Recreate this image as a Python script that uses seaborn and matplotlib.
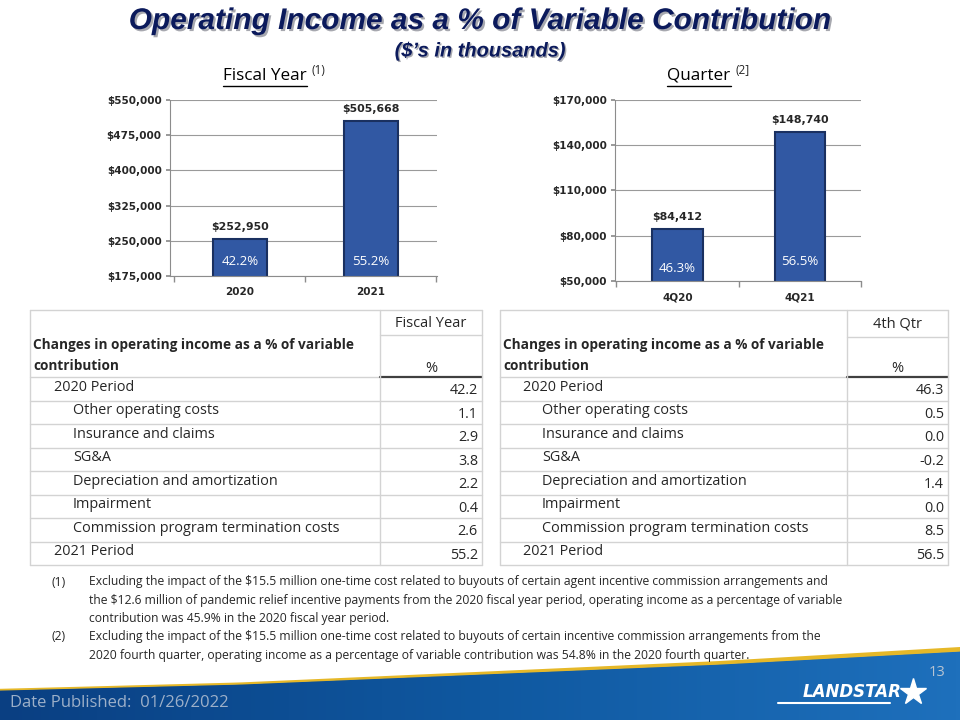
import numpy as np
import pandas as pd
import seaborn as sns
import matplotlib.pyplot as plt
from matplotlib import font_manager as fm
from matplotlib import patheffects as pe
from matplotlib.patches import Polygon
from matplotlib.ticker import FuncFormatter

# Dane wykresów słupkowych
fy_labels = ["2020", "2021"]
fy_values = [252950, 505668]
fy_pct = ["42.2%", "55.2%"]

q_labels = ["4Q20", "4Q21"]
q_values = [84412, 148740]
q_pct = ["46.3%", "56.5%"]

# Dane tabel
row_names = ["2020 Period", "Other operating costs", "Insurance and claims", "SG&A",
             "Depreciation and amortization", "Impairment",
             "Commission program termination costs", "2021 Period"]
row_level = [0, 1, 1, 1, 1, 1, 1, 0]
fy_changes = [42.2, 1.1, 2.9, 3.8, 2.2, 0.4, 2.6, 55.2]
q_changes = [46.3, 0.5, 0.0, -0.2, 1.4, 0.0, 8.5, 56.5]

footnotes = [
    ("(1)", ["Excluding the impact of the $15.5 million one-time cost related to buyouts of certain agent incentive commission arrangements and",
             "the $12.6 million of pandemic relief incentive payments from the 2020 fiscal year period, operating income as a percentage of variable",
             "contribution was 45.9% in the 2020 fiscal year period."]),
    ("(2)", ["Excluding the impact of the $15.5 million one-time cost related to buyouts of certain incentive commission arrangements from the",
             "2020 fourth quarter, operating income as a percentage of variable contribution was 54.8% in the 2020 fourth quarter."]),
]

sns.set_theme(style="white")
installed = {f.name for f in fm.fontManager.ttflist}
narrow = "Liberation Sans Narrow" if "Liberation Sans Narrow" in installed else "Liberation Sans"
plt.rcParams["font.family"] = ["Open Sans", "DejaVu Sans"]

W, H = 960, 720
fig = plt.figure(figsize=(9.6, 7.2), dpi=100)

# Tło w układzie pikseli
bg = fig.add_axes([0, 0, 1, 1], zorder=0)
bg.set_xlim(0, W)
bg.set_ylim(H, 0)
bg.axis("off")

NAVY = "#0B1A5C"
BAR = "#3158A3"
BAR_EDGE = "#1A3060"

# Tytuł
title_size = 25 if narrow == "Liberation Sans Narrow" else 21.5
bg.text(480, 21, "Operating Income as a % of Variable Contribution", ha="center", va="center",
        fontsize=title_size, fontweight="bold", style="italic", family=narrow, color=NAVY,
        path_effects=[pe.withSimplePatchShadow(offset=(1.5, -1.5), alpha=0.35)])
bg.text(480, 51, "($’s in thousands)", ha="center", va="center",
        fontsize=title_size * 0.67, fontweight="bold", style="italic", family=narrow, color=NAVY,
        path_effects=[pe.withSimplePatchShadow(offset=(1, -1), alpha=0.35)])

# Podtytuły wykresów z podkreśleniem
for cx, txt, sup in [(265, "Fiscal Year", "(1)"), (699, "Quarter", "(2]")]:
    t = bg.text(cx, 76, txt, ha="center", va="center", fontsize=12.3, color="#000000")
    fig.canvas.draw()
    bb = t.get_window_extent().transformed(bg.transData.inverted())
    x0, x1 = sorted([bb.x0, bb.x1])
    bg.plot([x0, x1], [85.5, 85.5], color="black", lw=1)
    bg.text(x1 + 5, 70, sup, ha="left", va="center", fontsize=8.5)


def px_axes(x0, y0, x1, y1):
    return fig.add_axes([x0 / W, 1 - y1 / H, (x1 - x0) / W, (y1 - y0) / H], zorder=2)


def bar_chart(ax, labels, values, pct, ylim, step, xlim, pct_y):
    df = pd.DataFrame({"cat": labels, "val": values})
    sns.barplot(data=df, x="cat", y="val", ax=ax, color=BAR, width=0.41,
                edgecolor=BAR_EDGE, linewidth=1.5, saturation=1)
    ax.set_ylim(*ylim)
    ax.set_xlim(*xlim)
    ax.set_yticks(np.arange(ylim[0], ylim[1] + 1, step))
    ax.yaxis.set_major_formatter(FuncFormatter(lambda v, p: f"${v:,.0f}"))
    ax.grid(axis="y", color="#9A9A9A", lw=0.8)
    ax.set_axisbelow(True)
    for s in ["top", "right"]:
        ax.spines[s].set_visible(False)
    for s in ["left", "bottom"]:
        ax.spines[s].set_color("#8C8C8C")
        ax.spines[s].set_linewidth(0.8)
    ax.set_xlabel("")
    ax.set_ylabel("")
    ax.tick_params(axis="y", left=True, length=3, color="#8C8C8C", labelsize=7.5, pad=3)
    ax.tick_params(axis="x", bottom=False, labelsize=7.5, pad=2)
    ax.set_xticks([-0.5, 0.5, 1.5], minor=True)
    ax.tick_params(axis="x", which="minor", bottom=True, length=4, color="#8C8C8C")
    for lab in ax.get_xticklabels() + ax.get_yticklabels():
        lab.set_fontweight("bold")
        lab.set_family("DejaVu Sans")
    for i, (v, p) in enumerate(zip(values, pct)):
        ax.annotate(f"${v:,.0f}", (i, v), xytext=(0, 5), textcoords="offset points",
                    ha="center", va="bottom", fontsize=7.9, fontweight="bold", family="DejaVu Sans")
        ax.text(i, ylim[0] + pct_y[i] * (ylim[1] - ylim[0]), p, ha="center", va="center",
                fontsize=9.5, color="white")


ax1 = px_axes(170, 100, 437, 276)
bar_chart(ax1, fy_labels, fy_values, fy_pct, (175000, 550000), 75000, (-0.534, 1.504), [0.085, 0.085])

ax2 = px_axes(615, 100, 861, 281)
bar_chart(ax2, q_labels, q_values, q_pct, (50000, 170000), 30000, (-0.51, 1.37), [0.07, 0.105])


# Tabele
GRID = "#D3D3D3"


def draw_table(x0, xv, x1, top, mid, hdr_bot, col_title, values, lx):
    row_h = (565 - hdr_bot) / len(values)
    bot = hdr_bot + row_h * len(values)
    # ramka i linie
    bg.plot([x0, x1], [top, top], color=GRID, lw=1)
    bg.plot([xv, x1], [mid, mid], color=GRID, lw=1)
    bg.plot([x0, xv], [hdr_bot, hdr_bot], color=GRID, lw=1)
    bg.plot([xv, x1], [hdr_bot, hdr_bot], color="#404040", lw=1.6)
    for k in range(1, len(values) + 1):
        y = hdr_bot + k * row_h
        bg.plot([x0, x1], [y, y], color=GRID, lw=1)
    for x in (x0, xv, x1):
        bg.plot([x, x], [top, bot], color=GRID, lw=1)
    bg.text((xv + x1) / 2, (top + mid) / 2 + 1, col_title, ha="center", va="center", fontsize=10.5)
    bg.text(x0 + 3, hdr_bot - 32, "Changes in operating income as a % of variable", ha="left",
            va="center", fontsize=9.8, fontweight="bold")
    bg.text(x0 + 3, hdr_bot - 11, "contribution", ha="left", va="center", fontsize=9.8, fontweight="bold")
    bg.text((xv + x1) / 2, hdr_bot - 9, "%", ha="center", va="center", fontsize=10.5)
    for k, (name, lvl, v) in enumerate(zip(row_names, row_level, values)):
        yc = hdr_bot + k * row_h + row_h / 2
        bg.text(lx[lvl], yc - 1.5, name, ha="left", va="center", fontsize=10.4)
        bg.text(x1 - 4, yc + 2, f"{v:.1f}", ha="right", va="center", fontsize=10.4)


draw_table(30, 380, 482, 310, 335, 377, "Fiscal Year", fy_changes, (54, 73))
draw_table(500, 847, 948, 310, 337, 377, "4th Qtr", q_changes, (523, 542))

# Przypisy
line_y = 582
for num, lines in footnotes:
    bg.text(52, line_y, num, ha="left", va="center", fontsize=8.7)
    for ln in lines:
        bg.text(89, line_y, ln, ha="left", va="center", fontsize=8.7)
        line_y += 18.3

# Stopka
xs = np.linspace(0, W, 120)
top_edge = np.interp(xs, [0, 240, 480, 720, 960], [690, 684, 674, 664, 651])
grad = np.linspace(0, 1, 256).reshape(1, -1)
band = Polygon(np.column_stack([np.r_[xs, W, 0], np.r_[top_edge, H, H]]), closed=True,
               facecolor="none", edgecolor="none")
bg.add_patch(band)
im = bg.imshow(grad, cmap=sns.blend_palette(["#0A3F82", "#0F58A0", "#1E70BC"], as_cmap=True),
               extent=[0, W, H, 640], aspect="auto", zorder=1)
im.set_clip_path(band)
# złoty pasek, grubszy z prawej strony
thick = 1.2 + 2.8 * (xs / W) ** 1.5
bg.fill_between(xs, top_edge + 0.6, top_edge - thick, color="#E6B828", lw=0, zorder=2)
bg.set_xlim(0, W)
bg.set_ylim(H, 0)

bg.text(10, 703, "Date Published:  01/26/2022", ha="left", va="center", fontsize=12,
        color="#9DB0C9", zorder=3)
bg.text(937, 673, "13", ha="center", va="center", fontsize=10.5, color="#B8C4D2", zorder=3)
bg.text(852, 692, "LANDSTAR", ha="center", va="center", fontsize=12, fontweight="heavy",
        style="italic", family="DejaVu Sans", color="white", zorder=3)
bg.plot([778, 890], [703, 703], color="white", lw=1.5, zorder=3)
bg.plot([913], [692], marker="*", markersize=20, color="white", zorder=3)

fig.savefig("out.png", dpi=100)
